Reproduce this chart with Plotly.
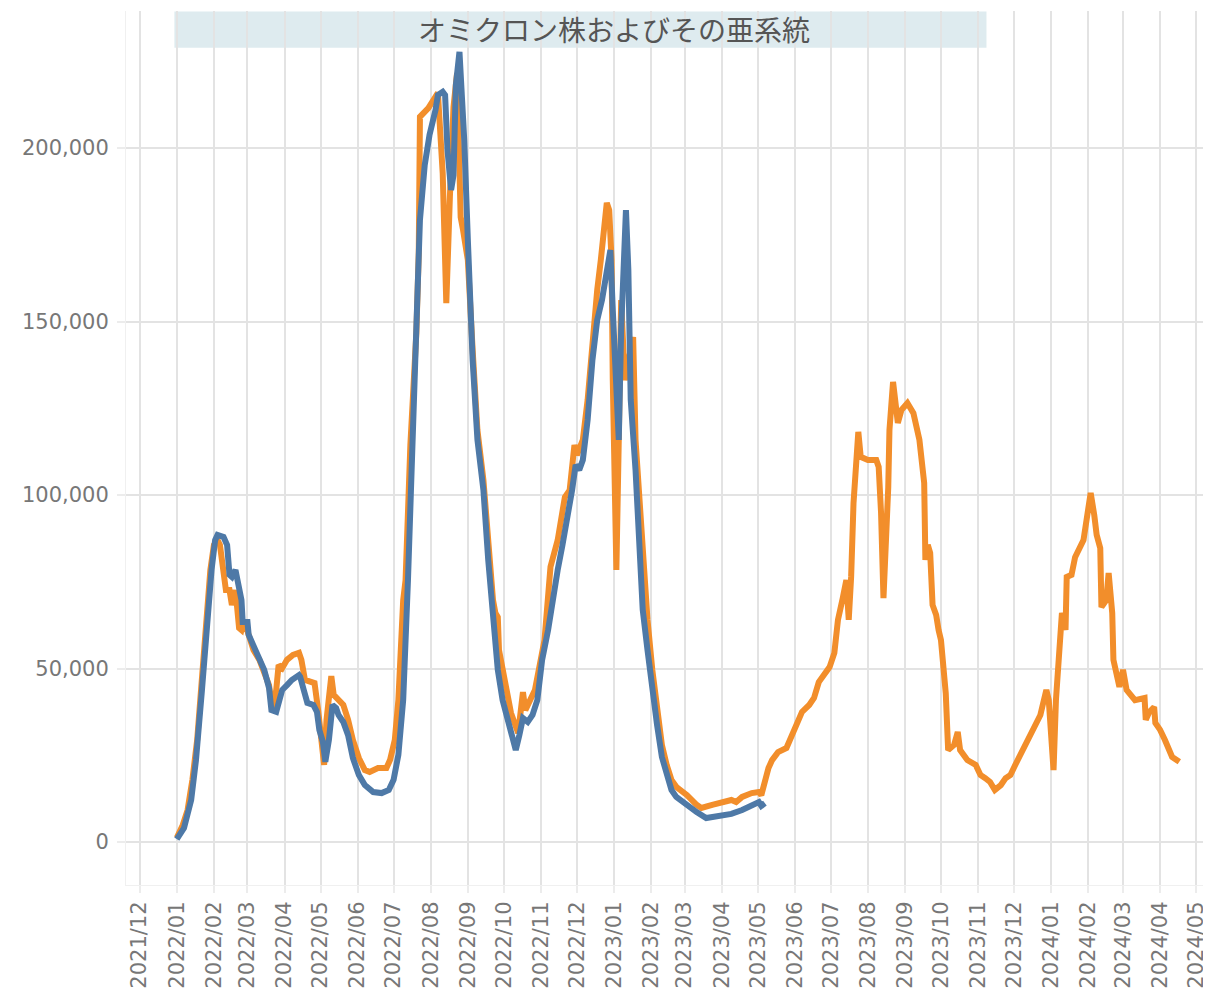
import plotly.graph_objects as go

blue_dates = [
    "2022-01-01", "2022-01-07", "2022-01-13", "2022-01-17", "2022-01-22", "2022-01-26", "2022-01-30",
    "2022-02-02", "2022-02-04", "2022-02-09", "2022-02-12", "2022-02-14", "2022-02-16", "2022-02-19",
    "2022-02-21", "2022-02-24", "2022-02-25", "2022-03-01", "2022-03-02", "2022-03-06", "2022-03-11",
    "2022-03-15", "2022-03-19", "2022-03-21", "2022-03-25", "2022-03-28", "2022-03-30", "2022-04-03",
    "2022-04-07", "2022-04-13", "2022-04-14", "2022-04-17", "2022-04-20", "2022-04-25", "2022-04-28",
    "2022-04-30", "2022-05-03", "2022-05-05", "2022-05-08", "2022-05-11", "2022-05-14", "2022-05-16",
    "2022-05-20", "2022-05-24", "2022-05-28", "2022-06-02", "2022-06-07", "2022-06-14", "2022-06-21",
    "2022-06-27", "2022-07-01", "2022-07-05", "2022-07-09", "2022-07-13", "2022-07-17", "2022-07-20",
    "2022-07-23", "2022-07-27", "2022-07-31", "2022-08-05", "2022-08-07", "2022-08-11", "2022-08-13",
    "2022-08-15", "2022-08-18", "2022-08-20", "2022-08-22", "2022-08-25", "2022-08-26", "2022-08-29",
    "2022-09-01", "2022-09-05", "2022-09-09", "2022-09-14", "2022-09-18", "2022-09-22", "2022-09-26",
    "2022-09-30", "2022-10-04", "2022-10-08", "2022-10-11", "2022-10-14", "2022-10-17", "2022-10-21",
    "2022-10-25", "2022-10-29", "2022-11-02", "2022-11-07", "2022-11-11", "2022-11-15", "2022-11-19",
    "2022-11-23", "2022-11-27", "2022-11-30", "2022-12-03", "2022-12-06", "2022-12-10", "2022-12-14",
    "2022-12-18", "2022-12-22", "2022-12-26", "2022-12-29", "2022-12-31", "2023-01-03", "2023-01-05",
    "2023-01-07", "2023-01-10", "2023-01-11", "2023-01-13", "2023-01-15", "2023-01-19", "2023-01-22",
    "2023-01-25", "2023-01-29", "2023-02-02", "2023-02-06", "2023-02-10", "2023-02-14", "2023-02-18",
    "2023-02-22", "2023-03-03", "2023-03-11", "2023-03-19", "2023-03-24", "2023-04-01", "2023-04-09",
    "2023-04-18", "2023-04-26", "2023-05-02", "2023-05-04", "2023-05-07",
]
blue_values = [
    800, 4000, 12100, 23600, 43800, 64000, 78400,
    87000, 88500, 87900, 85600, 77000, 76400, 78400,
    74100, 69700, 63400, 63400, 59700, 56800, 52500,
    49600, 44400, 38000, 37500, 40900, 43800, 45200,
    46700, 48100, 47600, 43800, 40100, 39500, 37500,
    32300, 28800, 23100, 29400, 39500, 38600, 36600,
    34600, 30800, 24200, 19300, 16400, 14400, 14100,
    15000, 17900, 25100, 40900, 75500, 113000, 147600,
    179300, 195100, 203800, 211000, 215300, 216200, 215300,
    199400, 187900, 192200, 218200, 227700, 222500, 202300,
    173500, 138900, 115900, 101400, 81300, 65400, 49600,
    40900, 35200, 30800, 26500, 30800, 35700, 34600,
    36600, 40900, 52500, 61100, 71200, 78400, 85600,
    92800, 101400, 108700, 107200, 110100, 121600, 138900,
    150400, 156200, 164900, 170600, 153300, 127400, 115900,
    147600, 175000, 182100, 164900, 127400, 107200, 84200,
    66900, 55300, 43800, 33700, 24500, 19300, 15000,
    13000, 10400, 8600, 6900, 7200, 7500, 8100,
    9200, 10700, 11500, 10400, 11200,
]

orange_dates = [
    "2022-01-01", "2022-01-06", "2022-01-10", "2022-01-14", "2022-01-18", "2022-01-22", "2022-01-25",
    "2022-01-29", "2022-02-01", "2022-02-04", "2022-02-06", "2022-02-09", "2022-02-11", "2022-02-14",
    "2022-02-16", "2022-02-19", "2022-02-22", "2022-02-24", "2022-02-26", "2022-03-02", "2022-03-06",
    "2022-03-11", "2022-03-15", "2022-03-19", "2022-03-22", "2022-03-25", "2022-03-27", "2022-03-30",
    "2022-04-03", "2022-04-08", "2022-04-13", "2022-04-15", "2022-04-18", "2022-04-22", "2022-04-26",
    "2022-04-29", "2022-05-01", "2022-05-04", "2022-05-06", "2022-05-10", "2022-05-12", "2022-05-16",
    "2022-05-20", "2022-05-24", "2022-05-28", "2022-06-02", "2022-06-07", "2022-06-11", "2022-06-18",
    "2022-06-25", "2022-06-28", "2022-07-02", "2022-07-05", "2022-07-09", "2022-07-11", "2022-07-15",
    "2022-07-18", "2022-07-20", "2022-07-22", "2022-07-23", "2022-07-30", "2022-08-07", "2022-08-11",
    "2022-08-14", "2022-08-17", "2022-08-20", "2022-08-23", "2022-08-26", "2022-08-28", "2022-09-01",
    "2022-09-05", "2022-09-09", "2022-09-14", "2022-09-18", "2022-09-22", "2022-09-24", "2022-09-26",
    "2022-09-27", "2022-10-02", "2022-10-07", "2022-10-13", "2022-10-17", "2022-10-19", "2022-10-27",
    "2022-11-04", "2022-11-09", "2022-11-15", "2022-11-21", "2022-11-25", "2022-11-29", "2022-12-01",
    "2022-12-06", "2022-12-10", "2022-12-14", "2022-12-18", "2022-12-21", "2022-12-24", "2022-12-26",
    "2022-12-28", "2022-12-30", "2022-12-31", "2023-01-03", "2023-01-05", "2023-01-07", "2023-01-10",
    "2023-01-17", "2023-01-19", "2023-01-24", "2023-01-29", "2023-02-02", "2023-02-06", "2023-02-10",
    "2023-02-14", "2023-02-18", "2023-02-22", "2023-03-03", "2023-03-11", "2023-03-15", "2023-03-24",
    "2023-04-01", "2023-04-09", "2023-04-13", "2023-04-18", "2023-04-26", "2023-05-02", "2023-05-04",
    "2023-05-07", "2023-05-10", "2023-05-13", "2023-05-18", "2023-05-25", "2023-05-29", "2023-06-02",
    "2023-06-07", "2023-06-13", "2023-06-17", "2023-06-21", "2023-06-30", "2023-07-04", "2023-07-07",
    "2023-07-11", "2023-07-14", "2023-07-16", "2023-07-18", "2023-07-20", "2023-07-24", "2023-07-26",
    "2023-08-01", "2023-08-08", "2023-08-10", "2023-08-12", "2023-08-14", "2023-08-18", "2023-08-19",
    "2023-08-22", "2023-08-26", "2023-08-29", "2023-09-03", "2023-09-08", "2023-09-13", "2023-09-17",
    "2023-09-18", "2023-09-20", "2023-09-22", "2023-09-24", "2023-09-27", "2023-09-29", "2023-10-01",
    "2023-10-05", "2023-10-07", "2023-10-12", "2023-10-15", "2023-10-17", "2023-10-23", "2023-10-30",
    "2023-11-03", "2023-11-07", "2023-11-11", "2023-11-15", "2023-11-20", "2023-11-24", "2023-11-28",
    "2023-12-02", "2023-12-06", "2023-12-10", "2023-12-15", "2023-12-19", "2023-12-23", "2023-12-25",
    "2023-12-28", "2023-12-30", "2024-01-03", "2024-01-05", "2024-01-08", "2024-01-10", "2024-01-13",
    "2024-01-14", "2024-01-18", "2024-01-21", "2024-01-28", "2024-01-31", "2024-02-03", "2024-02-06",
    "2024-02-08", "2024-02-11", "2024-02-12", "2024-02-16", "2024-02-18", "2024-02-21", "2024-02-22",
    "2024-02-27", "2024-03-01", "2024-03-04", "2024-03-11", "2024-03-19", "2024-03-20", "2024-03-23",
    "2024-03-27", "2024-03-28", "2024-04-01", "2024-04-05", "2024-04-11", "2024-04-17",
]
orange_values = [
    1200, 4900, 9200, 17900, 29400, 46700, 64000,
    78400, 85600, 87000, 85600, 77000, 72600, 72600,
    68300, 72600, 61700, 61100, 64000, 59700, 55300,
    52500, 49000, 45200, 38000, 43800, 51000, 50100,
    52500, 53900, 54500, 52500, 46700, 46100, 45800,
    38000, 30800, 22200, 35200, 47800, 42400, 40900,
    39500, 35200, 29400, 24200, 20700, 20200, 21300,
    21300, 23600, 29400, 40900, 69700, 75500, 114400,
    133100, 146700, 169800, 209000, 211500, 215900, 192800,
    155300, 185900, 211800, 221600, 180100, 176400, 167700,
    141800, 118700, 104300, 85000, 69700, 66000, 64800,
    55300, 46700, 37200, 31400, 43200, 38000, 43800,
    58200, 79300, 87000, 99400, 101400, 114400, 111500,
    115900, 127400, 144700, 159100, 167700, 177800, 184200,
    182100, 167700, 133100, 78400, 115900, 156200, 133100,
    145500, 115900, 87000, 64000, 49600, 38000, 28000,
    22200, 17900, 15900, 13500, 10700, 9800, 10700,
    11200, 12100, 11500, 13000, 14100, 14400, 13500,
    18400, 21300, 23600, 25900, 27100, 30000, 32900,
    37500, 39500, 41500, 46100, 50400, 54500, 64000,
    70300, 75500, 64000, 76400, 97700, 118200, 111000,
    110100, 110100, 108100, 94800, 70300, 102300, 118700,
    132600, 120800, 124500, 126500, 123600, 115900, 103500,
    81300, 85600, 83300, 68300, 65400, 61100, 58200,
    42900, 26500, 28000, 31700, 26500, 23600, 22200,
    19300, 18400, 17300, 15000, 16400, 18400, 19300,
    22200, 25100, 28000, 31400, 34600, 36600, 39500,
    43800, 40900, 20700, 40900, 58200, 66000, 61100,
    76400, 77000, 82100, 87000, 94200, 100600, 94200,
    88500, 84700, 67700, 69700, 77500, 66000, 52500,
    44700, 49600, 43800, 40900, 41500, 35200, 37500,
    38900, 34300, 32300, 29400, 24500, 23100,
]

band_label = "オミクロン株およびその亜系統"
band_start = "2021-12-30"
band_end = "2023-11-08"
band_label_x = "2023-01-01"

y_ticks = [0, 50000, 100000, 150000, 200000]

grid_col = "#e3e3e3"
tick_font = dict(family="DejaVu Sans", size=21, color="#777777")

fig = go.Figure()
fig.add_trace(go.Scatter(
    x=orange_dates, y=orange_values, mode="lines",
    line=dict(color="#f28e2b", width=6), showlegend=False,
))
fig.add_trace(go.Scatter(
    x=blue_dates, y=blue_values, mode="lines",
    line=dict(color="#4e79a7", width=6), showlegend=False,
))

fig.add_shape(type="rect", xref="x", yref="paper",
              x0=band_start, x1=band_end, y0=0.958, y1=0.9995,
              fillcolor="#deebef", line=dict(width=0), layer="below")
fig.add_shape(type="line", xref="paper", yref="y", x0=0, x1=1, y0=0, y1=0,
              line=dict(color="#b5b5b5", width=1, dash="dot"), layer="below")
fig.add_annotation(x=band_label_x, y=0.979, xref="x", yref="paper",
                   text=band_label, showarrow=False, xanchor="center", yanchor="middle",
                   font=dict(family="Noto Sans CJK JP", size=28, color="#555555"))

# page body adds an 8px offset; figure is sized to fill the rest of the window
fig.update_layout(
    width=1203, height=983,
    margin=dict(l=118, r=2, t=3, b=106),
    paper_bgcolor="white", plot_bgcolor="white",
    showlegend=False,
)
fig.update_xaxes(
    type="date", automargin=False,
    range=["2021-11-19 14:00", "2024-05-11 19:00"],
    tick0="2021-12-01", dtick="M1", tickformat="%Y/%m",
    tickangle=-90, tickfont=tick_font, ticklabeloverflow="allow",
    showgrid=True, gridcolor=grid_col, gridwidth=2,
    ticks="outside", ticklen=7, tickcolor="#ececec", tickwidth=2,
    showline=True, linecolor="#f0f0f0", linewidth=1,
    zeroline=False,
)
fig.update_yaxes(
    automargin=False,
    range=[-12400, 239500],
    tickvals=y_ticks, tickformat=",",
    tickfont=tick_font,
    showgrid=True, gridcolor=grid_col, gridwidth=2,
    ticks="outside", ticklen=8, tickcolor="#ececec", tickwidth=2,
    showline=True, linecolor="#f0f0f0", linewidth=1,
    zeroline=False, ticklabelstandoff=4,
)

fig.write_html("out.html")
